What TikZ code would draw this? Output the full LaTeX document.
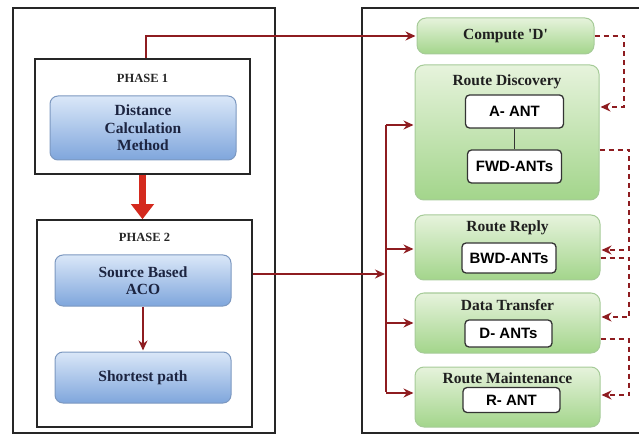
\documentclass[tikz,border=0pt]{standalone}
\usepackage{fontspec}
\setmainfont{Liberation Serif}
\setsansfont{Liberation Sans}
\usetikzlibrary{arrows,arrows.meta,positioning}

\definecolor{bluetop}{HTML}{DAE7F8}
\definecolor{bluebot}{HTML}{7FA6DC}
\definecolor{blueedge}{HTML}{7C98C0}
\definecolor{bluetext}{HTML}{1C2440}
\definecolor{greentop}{HTML}{E6F3DC}
\definecolor{greenbot}{HTML}{A3D58B}
\definecolor{greenedge}{HTML}{A6CB98}
\definecolor{darkred}{HTML}{8E1C20}
\definecolor{bigred}{HTML}{D42A1E}

\begin{document}
\begin{tikzpicture}[x=1pt,y=-1pt,->,>={Stealth[length=10pt,width=9pt]},shorten >=1pt,
    panel/.style={draw=black!85,line width=1.5pt,inner sep=0pt},
    phasetitle/.style={font=\fontsize{12.5}{14}\selectfont\bfseries,text=black!85,inner sep=0pt},
    bluebox/.style={draw=blueedge,line width=1pt,rounded corners=8pt,top color=bluetop,
      bottom color=bluebot,text=bluetext,align=center,inner sep=0pt,
      font=\fontsize{15.5}{17.5}\selectfont\bfseries},
    greenbox/.style={draw=greenedge,line width=1pt,rounded corners=9pt,top color=greentop,
      bottom color=greenbot,inner sep=0pt},
    title/.style={font=\fontsize{15.5}{17}\selectfont\bfseries,text=black!88,inner sep=0pt},
    antbox/.style={draw=black!80,line width=1.3pt,fill=white,rounded corners=4pt,inner sep=0pt,
      font=\sffamily\fontsize{15}{17}\selectfont\bfseries},
    flow/.style={draw=darkred,line width=1.5pt},
    back/.style={draw=darkred,line width=1.4pt,dash pattern=on 5pt off 4pt}]

    \useasboundingbox (0,0) rectangle (639,435);

    % left side
    \node[panel,minimum width=262pt,minimum height=425pt] (lpanel) at (144,220.5) {};
    \node[panel,minimum width=215pt,minimum height=115pt] (p1) at (142.5,116.5) {};
    \node[phasetitle] (p1t) at (142.5,78) {PHASE 1};
    \node[bluebox,minimum width=186pt,minimum height=64pt] (dcm) at (143,128)
      {Distance\\Calculation\\Method};
    \node[panel,minimum width=215pt,minimum height=207pt] (p2) at (144.5,323.5) {};
    \node[phasetitle] (p2t) at (144.5,237) {PHASE 2};
    \node[bluebox,minimum width=176pt,minimum height=51pt] (sba) at (143,280.5)
      {Source Based\\ACO};
    \node[bluebox,minimum width=176pt,minimum height=51pt,below=45pt of sba] (sp)
      {Shortest path};

    % right side
    \coordinate (rtl) at (362,8);
    \coordinate (rtr) at (645,8);
    \coordinate (rbl) at (362,433);
    \coordinate (rbr) at (645,433);
    \draw[-,draw=black!85,line width=1.5pt] (rtr) -- (rtl) -- (rbl) -- (rbr);

    \node[greenbox,title,minimum width=177pt,minimum height=36pt] (comp) at (505.5,36)
      {Compute \textquotesingle D\textquotesingle};
    \node[greenbox,minimum width=184pt,minimum height=135pt] (rd) at (507,132.5) {};
    \node[title] (rdt) at (507,82) {Route Discovery};
    \node[antbox,minimum width=98pt,minimum height=33pt] (aant) at (514.5,111.5) {A- ANT};
    \node[antbox,minimum width=94pt,minimum height=33pt] (fwd) at (514.5,166.5) {FWD-ANTs};
    \node[greenbox,minimum width=185pt,minimum height=65pt] (rr) at (507.5,247.5) {};
    \node[title] (rrt) at (507.5,228) {Route Reply};
    \node[antbox,minimum width=94pt,minimum height=30pt] (bwd) at (509,258) {BWD-ANTs};
    \node[greenbox,minimum width=185pt,minimum height=60pt] (dt) at (507.5,323) {};
    \node[title] (dtt) at (507.5,305) {Data Transfer};
    \node[antbox,minimum width=87pt,minimum height=27pt] (dant) at (508.5,333.5) {D- ANTs};
    \node[greenbox,minimum width=185pt,minimum height=60pt] (rm) at (507.5,397) {};
    \node[title] (rmt) at (507.5,378) {Route Maintenance};
    \node[antbox,minimum width=97pt,minimum height=25pt] (rant) at (511.5,400) {R- ANT};

    \draw[-,line width=1.7pt,draw=black!80,shorten >=0pt] (aant) -- (fwd);

    % phase links
    \draw[-{Triangle[width=22pt,length=15pt]},line width=7pt,draw=bigred,shorten >=0pt]
      (p1.south) -- (p1.south |- p2.north);
    \draw[flow] (sba) -- (sp);
    \draw[flow] ([xshift=3.5pt]p1.north) |- (comp.west);

    \coordinate (ttop) at (386,125);
    \coordinate (tmid) at (386,274);
    \coordinate (tbot) at (386,393);
    \draw[flow,-] (ttop) -- (tbot);
    \draw[flow] (p2.east |- tmid) -- (tmid);
    \draw[flow] (ttop) -- (rd.west |- ttop);
    \draw[flow] (ttop |- rr.west) ++(0,1.5) -- ([yshift=-1.5pt]rr.west);
    \draw[flow] (ttop |- dt.west) -- (dt.west);
    \draw[flow] (tbot) -- (rm.west |- tbot);

    % feedback links
    \coordinate (d1) at (624,107);
    \coordinate (d2) at (629,250);
    \coordinate (d3) at (629,317);
    \coordinate (d4) at (629,395);
    \draw[back] (comp.east) -| (d1) -- (d1 -| rd.east);
    \draw[back] ([yshift=-17.5pt]rd.east) -| (d2) -- (d2 -| rr.east);
    \draw[back] ([yshift=-10.5pt]rr.east) -| (d3) -- (d3 -| dt.east);
    \draw[back] ([yshift=-16pt]dt.east) -| (d4) -- (d4 -| rm.east);

\end{tikzpicture}
\end{document}
